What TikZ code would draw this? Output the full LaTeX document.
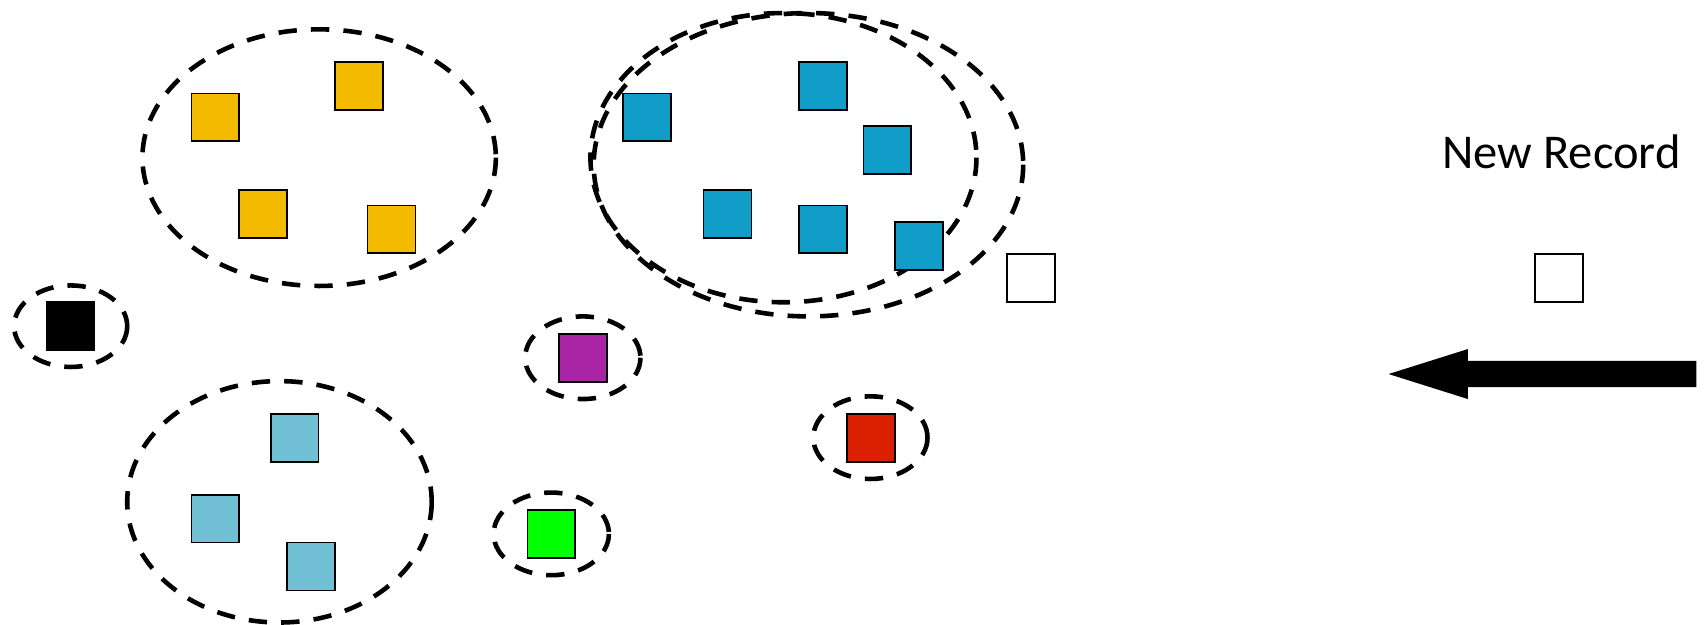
\documentclass[tikz,border=0pt]{standalone}
\usepackage{fontspec}
\setmainfont{Carlito}
\definecolor{cyel}{RGB}{244,186,0}
\definecolor{cblue}{RGB}{16,158,200}
\definecolor{clblue}{RGB}{114,192,214}
\definecolor{cpurple}{RGB}{170,37,166}
\definecolor{cred}{RGB}{218,32,0}
\definecolor{cgreen}{RGB}{0,255,0}
\tikzset{
  rec/.style={draw=black, line width=0.45pt, minimum size=0.44cm, inner sep=0pt, outer sep=0pt},
  cluster/.style={draw=black, line width=1.2pt, dash pattern=on 4.8pt off 3.7pt},
  blockarrow/.style={fill=black, draw=none}
}
\begin{document}
\begin{tikzpicture}[x=0.01cm, y=-0.01cm]
\useasboundingbox (0,0) rectangle (1568,574);
% clusters
\draw[cluster] (293.5,145) ellipse [x radius=162.5, y radius=118];
\draw[cluster] (720.5,145) ellipse [x radius=177.5, y radius=133];
\draw[cluster] (743.5,151.5) ellipse [x radius=197.5, y radius=139.5];
\draw[cluster] (65,300) ellipse [x radius=52, y radius=37.5];
\draw[cluster] (536,329) ellipse [x radius=53, y radius=38];
\draw[cluster] (800.5,402.5) ellipse [x radius=52.5, y radius=38];
\draw[cluster] (507,491) ellipse [x radius=53, y radius=38];
\draw[cluster] (257,461.5) ellipse [x radius=140, y radius=111];
% yellow records
\node[rec, fill=cyel] (y1) at (198,108) {};
\node[rec, fill=cyel] (y2) at (330,79) {};
\node[rec, fill=cyel] (y3) at (242,197) {};
\node[rec, fill=cyel] (y4) at (360,211) {};
% blue records
\node[rec, fill=cblue] (b1) at (595,108) {};
\node[rec, fill=cblue] (b2) at (757,79) {};
\node[rec, fill=cblue] (b3) at (816,138) {};
\node[rec, fill=cblue] (b4) at (669,197) {};
\node[rec, fill=cblue] (b5) at (757,211) {};
\node[rec, fill=cblue] (b6) at (845,226) {};
% white record placed
\node[rec, fill=white] (w1) at (948,255.5) {};
% singletons
\node[rec, fill=black] (k1) at (65,300) {};
\node[rec, fill=cpurple] (p1) at (536,329) {};
\node[rec, fill=cred] (r1) at (801,403) {};
\node[rec, fill=cgreen] (g1) at (507,491) {};
% light blue records
\node[rec, fill=clblue] (l1) at (271,403) {};
\node[rec, fill=clblue] (l2) at (198,477) {};
\node[rec, fill=clblue] (l3) at (286,521) {};
% new record
\node[anchor=base, inner sep=0pt, font=\fontsize{12.7}{15}\selectfont] (lbl) at (1436,155) {New Record};
\node[rec, fill=white] (nw) at (1433.5,255.5) {};
% block arrow
\coordinate (tip) at (1277,344);
\fill[blockarrow] (tip) -- (1350,321) -- (1350,332) -- (1560,332) -- (1560,356) -- (1350,356) -- (1350,367) -- cycle;
\end{tikzpicture}
\end{document}
